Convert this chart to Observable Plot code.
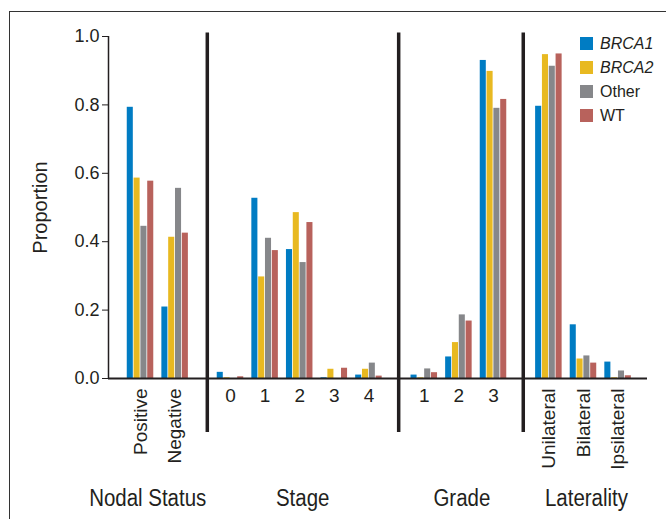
<!DOCTYPE html>
<html>
<head>
<meta charset="utf-8">
<script src="https://cdn.jsdelivr.net/npm/d3@7"></script>
<script src="https://cdn.jsdelivr.net/npm/@observablehq/plot@0.6"></script>
<style>
  html, body { margin: 0; padding: 0; background: #fff; }
  #wrap { position: relative; width: 666px; height: 519px; overflow: hidden; font-family: "Liberation Sans", Arial, Helvetica, sans-serif; color: #231f20; }
  #frame { position: absolute; left: 9px; top: 11px; right: -5px; bottom: -5px; border-left: 1.5px solid #333; border-top: 1.5px solid #333; }
  #chart { position: absolute; left: 0; top: 0; }
  #legend { position: absolute; left: 580px; top: 37px; }
  .item { display: flex; align-items: center; height: 13px; margin-bottom: 11px; font-size: 16px; }
  .sw { width: 13px; height: 13px; margin-right: 7px; }
</style>
</head>
<body>
<div id="wrap">
  <div id="frame"></div>
  <div id="chart"></div>
  <div id="legend"></div>
</div>
<script>
// ---- data ----
const categories = ["Positive", "Negative", "0", "1", "2", "3", "4", "1", "2", "3", "Unilateral", "Bilateral", "Ipsilateral"];
const categoryGroup = [0, 0, 1, 1, 1, 1, 1, 2, 2, 2, 3, 3, 3];
const groups = ["Nodal Status", "Stage", "Grade", "Laterality"];
const series = ["BRCA1", "BRCA2", "Other", "WT"];
const seriesItalic = [true, true, false, false];
const colors = ["#007cc3", "#e8b921", "#86878a", "#b8625c"];
const brca1 = [0.793, 0.209, 0.018, 0.527, 0.377, 0.002, 0.010, 0.010, 0.063, 0.930, 0.796, 0.157, 0.048];
const brca2 = [0.586, 0.413, 0.002, 0.297, 0.485, 0.027, 0.027, 0.002, 0.105, 0.898, 0.947, 0.057, 0.002];
const other = [0.445, 0.556, 0.000, 0.410, 0.339, 0.000, 0.045, 0.028, 0.186, 0.790, 0.913, 0.066, 0.022];
const wt    = [0.577, 0.425, 0.005, 0.374, 0.456, 0.030, 0.007, 0.017, 0.168, 0.816, 0.949, 0.045, 0.008];
const yTicks = [0, 0.2, 0.4, 0.6, 0.8, 1.0];

// ---- layout helpers (slot positions on a linear x scale) ----
const groupGap = 0.6;
const slot = categories.map((c, i) => i + categoryGroup[i] * groupGap);
const pitch = 0.197, barW = 0.175;
const values = [brca1, brca2, other, wt];
const rows = [];
categories.forEach((c, i) => {
  series.forEach((s, k) => {
    const cx = slot[i] + (k - 1.5) * pitch;
    rows.push({category: c, series: s, value: values[k][i], x1: cx - barW / 2, x2: cx + barW / 2});
  });
});
const xDomain = [-0.925, 14.65];
const separators = groups.slice(1).map((g, gi) => {
  const lastPrev = d3.max(slot.filter((s, i) => categoryGroup[i] === gi));
  const firstNext = d3.min(slot.filter((s, i) => categoryGroup[i] === gi + 1));
  return (lastPrev + firstNext) / 2 + (gi === 0 ? 0.13 : 0.06);
});
const labels = categories.map((c, i) => ({label: c, x: slot[i], rotated: isNaN(+c)}));
const titles = groups.map((g, gi) => {
  const ss = slot.filter((s, i) => categoryGroup[i] === gi);
  return {title: g, x: gi === 0 ? separators[0] : d3.mean(ss), first: gi === 0};
});

const ink = "#231f20";
const chart = Plot.plot({
  width: 666,
  height: 519,
  marginTop: 36,
  marginBottom: 141,
  marginLeft: 108,
  marginRight: 19,
  style: {fontFamily: '"Liberation Sans", Arial, Helvetica, sans-serif', color: ink, background: "transparent", overflow: "visible"},
  x: {type: "linear", domain: xDomain, axis: null},
  y: {domain: [0, 1], axis: null},
  color: {domain: series, range: colors},
  marks: [
    Plot.rectY(rows, {x1: "x1", x2: "x2", y1: 0, y2: "value", fill: "series"}),
    Plot.ruleY([0], {stroke: ink, strokeWidth: 2.2}),
    Plot.ruleX([xDomain[0]], {y1: 0, y2: 1, stroke: ink, strokeWidth: 1.5}),
    Plot.axisY({ticks: yTicks, tickFormat: ".1f", tickSize: 6, tickPadding: 3, fontSize: 18, label: null, stroke: ink}),
    Plot.ruleX(separators, {x: d => d, y1: -0.158, y2: 1.01, stroke: ink, strokeWidth: 3.5}),
    Plot.text(labels.filter(d => d.rotated), {x: "x", y: 0, text: "label", rotate: -90, textAnchor: "end", dy: 10, fontSize: 19, fill: ink}),
    Plot.text(labels.filter(d => !d.rotated), {x: "x", y: 0, text: "label", dy: 17, fontSize: 19, fill: ink}),
    Plot.text(titles.filter(d => d.first), {x: "x", y: 0, text: "title", textAnchor: "end", dy: 120, dx: -1, fontSize: 23, fill: ink}),
    Plot.text(titles.filter(d => !d.first), {x: "x", y: 0, text: "title", textAnchor: "middle", dy: 120, dx: 3, fontSize: 23, fill: ink}),
    Plot.text(["Proportion"], {frameAnchor: "left", textAnchor: "middle", rotate: -90, dx: -68, fontSize: 20, fill: ink})
  ]
});
document.getElementById("chart").appendChild(chart);

// condense the group titles horizontally (the reference uses a condensed face)
d3.select(chart).selectAll("text").each(function() {
  if (!groups.includes(this.textContent)) return;
  const xa = this.getAttribute("x");
  const tr = this.getAttribute("transform") || "";
  if (xa !== null) {
    const ax = +xa;
    this.setAttribute("transform", `${tr} translate(${ax},0) scale(0.89,1) translate(${-ax},0)`);
  } else {
    this.setAttribute("transform", `${tr} scale(0.89,1)`);
  }
});

const legend = document.getElementById("legend");
series.forEach((s, k) => {
  const item = document.createElement("div");
  item.className = "item";
  const sw = document.createElement("div");
  sw.className = "sw";
  sw.style.background = colors[k];
  const t = document.createElement("span");
  t.textContent = s;
  if (seriesItalic[k]) t.style.fontStyle = "italic";
  item.appendChild(sw);
  item.appendChild(t);
  legend.appendChild(item);
});
</script>
</body>
</html>
